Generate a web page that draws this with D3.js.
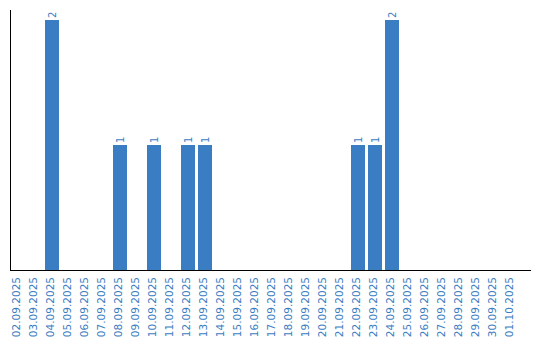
<!DOCTYPE html>
<html>
<head>
<meta charset="utf-8">
<script src="https://cdn.jsdelivr.net/npm/d3@7"></script>
<style>
  body { margin: 0; background: #fff; }
  svg { display: block; }
</style>
</head>
<body>
<svg id="svg" width="540" height="340"></svg>
<script>
let dates = [
  "02.09.2025", "03.09.2025", "04.09.2025", "05.09.2025", "06.09.2025",
  "07.09.2025", "08.09.2025", "09.09.2025", "10.09.2025", "11.09.2025",
  "12.09.2025", "13.09.2025", "14.09.2025", "15.09.2025", "16.09.2025",
  "17.09.2025", "18.09.2025", "19.09.2025", "20.09.2025", "21.09.2025",
  "22.09.2025", "23.09.2025", "24.09.2025", "25.09.2025", "26.09.2025",
  "27.09.2025", "28.09.2025", "29.09.2025", "30.09.2025", "01.10.2025"
];
let counts = [
  0, 0, 2, 0, 0,
  0, 1, 0, 1, 0,
  1, 1, 0, 0, 0,
  0, 0, 0, 0, 0,
  1, 1, 2, 0, 0,
  0, 0, 0, 0, 0
];

let blue = "#3a7dc2";
let svg = d3.select("#svg");

/* step 17px, bar 14px */
let x = d3.scaleBand()
  .domain(dates)
  .range([11, 518])
  .paddingInner(3 / 17)
  .paddingOuter(0);

let y = d3.scaleLinear()
  .domain([0, 2])
  .range([270, 20]);

/* Bars */
svg.selectAll("rect.bar")
  .data(dates)
  .enter()
  .append("rect")
  .attr("class", "bar")
  .attr("x", d => x(d))
  .attr("y", (d, i) => y(counts[i]))
  .attr("width", x.bandwidth())
  .attr("height", (d, i) => y(0) - y(counts[i]))
  .attr("fill", blue);

/* Value labels */
svg.selectAll("text.val")
  .data(dates.filter((d, i) => counts[i] > 0))
  .enter()
  .append("text")
  .attr("class", "val")
  .attr("transform", d => {
    let v = counts[dates.indexOf(d)];
    return `translate(${x(d) + x.bandwidth() / 2},${y(v) - 2}) rotate(-90)`;
  })
  .attr("dy", "0.35em")
  .attr("font-family", "DejaVu Sans, Verdana, sans-serif")
  .attr("font-size", "10px")
  .attr("fill", blue)
  .text(d => counts[dates.indexOf(d)]);

/* Axes */
svg.append("line")
  .attr("x1", 10.5).attr("y1", 10)
  .attr("x2", 10.5).attr("y2", 270)
  .attr("stroke", "#000");

svg.append("line")
  .attr("x1", 10).attr("y1", 270.5)
  .attr("x2", 531).attr("y2", 270.5)
  .attr("stroke", "#000");

/* Date labels */
svg.selectAll("text.date")
  .data(dates)
  .enter()
  .append("text")
  .attr("class", "date")
  .attr("transform", d => `translate(${x(d) + x.bandwidth() / 2 - 2},277) rotate(-90)`)
  .attr("text-anchor", "end")
  .attr("dy", "0.35em")
  .attr("font-family", "DejaVu Sans, Verdana, sans-serif")
  .attr("font-size", "10.5px")
  .attr("fill", blue)
  .text(d => d);
</script>
</body>
</html>
